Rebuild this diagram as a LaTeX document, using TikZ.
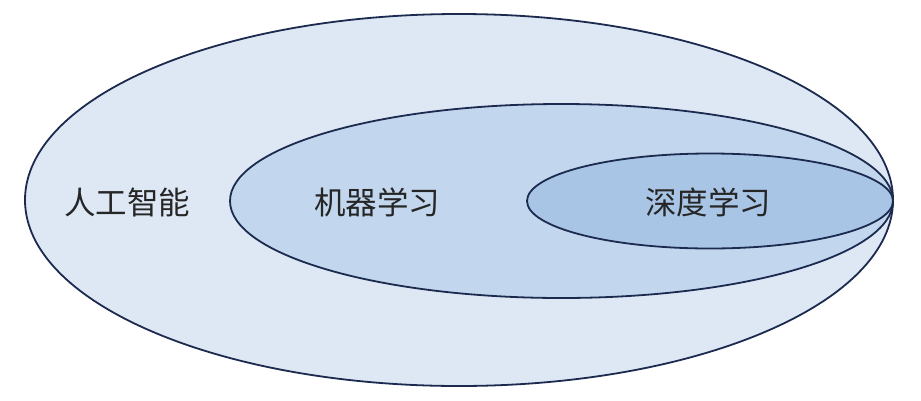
\documentclass[tikz,border=0pt]{standalone}
\usepackage{fontspec}
\newfontfamily\cjk{Noto Sans CJK SC}
\definecolor{outerfill}{HTML}{DEE8F5}
\definecolor{midfill}{HTML}{C2D7EE}
\definecolor{innerfill}{HTML}{A9C5E6}
\definecolor{edge}{HTML}{1B2A4E}
\tikzset{
  ring/.style={draw=edge, line width=1.8pt},
  lbl/.style={font=\cjk\fontsize{31.5}{38}\selectfont, text=black!85, inner sep=0pt}
}
\begin{document}
\begin{tikzpicture}[x=1pt,y=-1pt]
\useasboundingbox (0,0) rectangle (921,400);
\fill[white] (0,0) rectangle (921,400);
\draw[ring, fill=outerfill] (459,200) ellipse [x radius=434, y radius=186];
\draw[ring, fill=midfill] (561.5,201) ellipse [x radius=331.5, y radius=97];
\draw[ring, fill=innerfill] (710,201) ellipse [x radius=183, y radius=47.5];
\node[lbl] (ai) at (127,202) {人工智能};
\node[lbl] (ml) at (377,202) {机器学习};
\node[lbl] (dl) at (708,202) {深度学习};
\end{tikzpicture}
\end{document}
